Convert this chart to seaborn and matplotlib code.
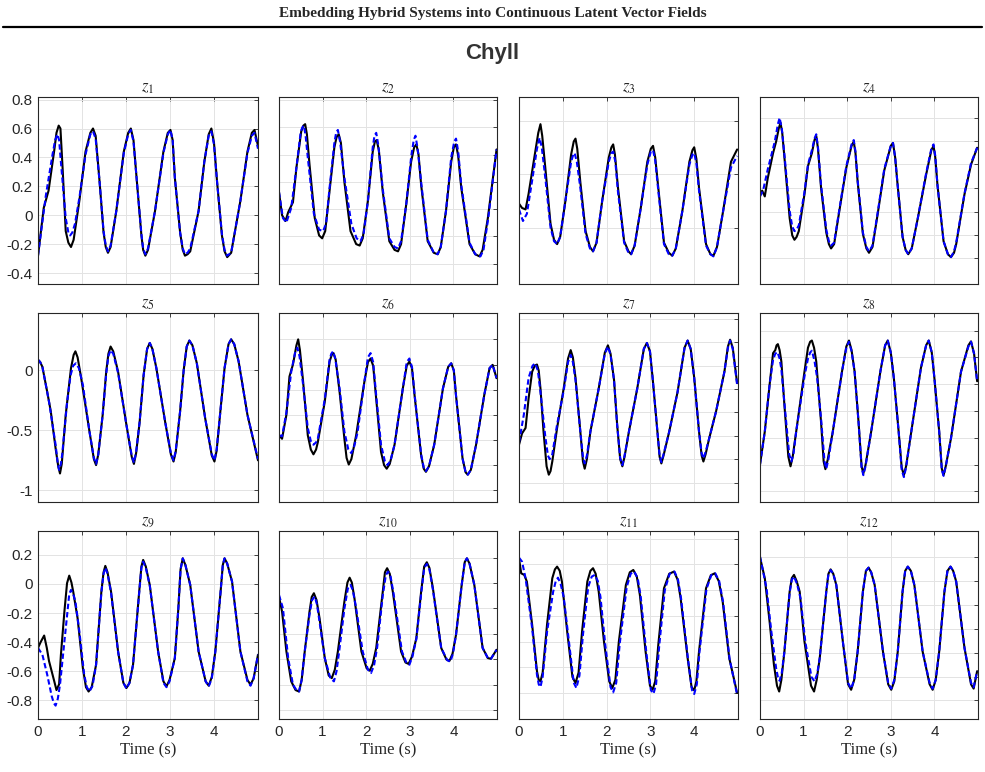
import numpy as np
import matplotlib
matplotlib.use("Agg")
import matplotlib.pyplot as plt
import seaborn as sns
from matplotlib.lines import Line2D

sns.set_style("white")
plt.rcParams['mathtext.fontset'] = 'stix'
plt.rcParams['font.family'] = ['Liberation Sans', 'DejaVu Sans']

# ---- data: (time [s], value) ----
# black = ground truth, blue dashed = prediction
z1_true = [(0, -0.28), (0.13, 0.05), (0.24, 0.17), (0.37, 0.45), (0.42, 0.57), (0.47, 0.62), (0.51, 0.60),
           (0.56, 0.32), (0.63, -0.11), (0.69, -0.19), (0.75, -0.22), (0.81, -0.17), (0.94, 0.10), (1.08, 0.44),
           (1.19, 0.57), (1.25, 0.60), (1.31, 0.55), (1.40, 0.23), (1.49, -0.12), (1.54, -0.22), (1.59, -0.26),
           (1.65, -0.22), (1.78, 0.03), (1.95, 0.44), (2.05, 0.57), (2.11, 0.60), (2.17, 0.52), (2.24, 0.26),
           (2.35, -0.14), (2.39, -0.24), (2.44, -0.28), (2.50, -0.24), (2.66, 0.03), (2.85, 0.44), (2.95, 0.57),
           (3.01, 0.59), (3.06, 0.52), (3.11, 0.26), (3.23, -0.12), (3.29, -0.24), (3.34, -0.28), (3.40, -0.27),
           (3.46, -0.25), (3.65, 0.03), (3.78, 0.37), (3.88, 0.56), (3.94, 0.60), (4.00, 0.50), (4.07, 0.23),
           (4.18, -0.14), (4.24, -0.25), (4.30, -0.29), (4.39, -0.26), (4.60, 0.10), (4.76, 0.44), (4.86, 0.57),
           (4.92, 0.59), (5.0, 0.48)]
z1_pred = [(0, -0.28), (0.18, 0.14), (0.33, 0.42), (0.39, 0.52), (0.44, 0.56), (0.48, 0.52), (0.52, 0.37),
           (0.63, -0.02), (0.69, -0.12), (0.73, -0.14), (0.78, -0.12), (0.84, -0.06), (0.94, 0.12), (1.08, 0.42),
           (1.19, 0.56), (1.25, 0.58), (1.31, 0.53), (1.40, 0.23), (1.49, -0.11), (1.54, -0.21), (1.59, -0.25),
           (1.65, -0.21), (1.78, 0.03), (1.95, 0.43), (2.05, 0.56), (2.11, 0.59), (2.17, 0.51), (2.24, 0.26),
           (2.35, -0.13), (2.39, -0.23), (2.44, -0.27), (2.50, -0.23), (2.66, 0.03), (2.85, 0.43), (2.95, 0.56),
           (3.01, 0.59), (3.06, 0.52), (3.11, 0.26), (3.23, -0.12), (3.29, -0.23), (3.34, -0.27), (3.40, -0.26),
           (3.46, -0.23), (3.65, 0.03), (3.78, 0.37), (3.88, 0.55), (3.94, 0.58), (4.00, 0.49), (4.07, 0.23),
           (4.18, -0.13), (4.24, -0.24), (4.30, -0.28), (4.39, -0.26), (4.60, 0.10), (4.76, 0.43), (4.86, 0.55),
           (4.92, 0.57), (5.0, 0.46)]
z2_true = [(0, 0.16), (0.07, 0.0), (0.15, -0.04), (0.21, 0.02), (0.32, 0.09), (0.40, 0.33), (0.51, 0.58),
           (0.56, 0.62), (0.60, 0.63), (0.64, 0.56), (0.70, 0.35), (0.82, -0.02), (0.92, -0.14), (0.99, -0.16),
           (1.06, -0.11), (1.16, 0.17), (1.27, 0.47), (1.32, 0.54), (1.37, 0.56), (1.42, 0.50), (1.50, 0.23),
           (1.64, -0.11), (1.77, -0.20), (1.85, -0.21), (1.92, -0.16), (2.04, 0.10), (2.15, 0.44), (2.20, 0.51),
           (2.24, 0.52), (2.29, 0.45), (2.38, 0.16), (2.53, -0.18), (2.65, -0.24), (2.73, -0.25), (2.80, -0.20),
           (2.92, 0.08), (3.03, 0.37), (3.10, 0.47), (3.15, 0.49), (3.20, 0.42), (3.26, 0.21), (3.41, -0.18),
           (3.55, -0.26), (3.64, -0.27), (3.71, -0.22), (3.83, 0.03), (3.95, 0.37), (4.01, 0.47), (4.06, 0.49),
           (4.11, 0.41), (4.18, 0.19), (4.37, -0.20), (4.50, -0.27), (4.60, -0.285), (4.67, -0.24), (4.79, -0.02),
           (4.99, 0.455)]
z2_pred = [(0, 0.16), (0.09, -0.02), (0.17, -0.05), (0.28, 0.05), (0.40, 0.33), (0.50, 0.58), (0.54, 0.61),
           (0.57, 0.62), (0.61, 0.55), (0.66, 0.40), (0.80, 0.01), (0.92, -0.10), (1.01, -0.11), (1.08, -0.06),
           (1.16, 0.19), (1.27, 0.50), (1.31, 0.57), (1.35, 0.59), (1.40, 0.51), (1.50, 0.26), (1.66, -0.06),
           (1.78, -0.16), (1.87, -0.18), (1.94, -0.13), (2.04, 0.10), (2.15, 0.47), (2.19, 0.55), (2.23, 0.57),
           (2.28, 0.48), (2.38, 0.18), (2.53, -0.16), (2.65, -0.22), (2.73, -0.23), (2.80, -0.18), (2.92, 0.08),
           (3.03, 0.40), (3.09, 0.52), (3.13, 0.55), (3.18, 0.46), (3.26, 0.23), (3.41, -0.17), (3.55, -0.26),
           (3.64, -0.27), (3.71, -0.22), (3.83, 0.03), (3.95, 0.40), (4.02, 0.51), (4.06, 0.53), (4.11, 0.44),
           (4.18, 0.21), (4.37, -0.19), (4.50, -0.27), (4.62, -0.285), (4.69, -0.24), (4.80, -0.02), (4.99, 0.455)]
z3_true = [(0, 0.08), (0.07, 0.05), (0.15, 0.04), (0.22, 0.15), (0.34, 0.38), (0.44, 0.57), (0.49, 0.63),
           (0.53, 0.55), (0.60, 0.33), (0.72, -0.06), (0.80, -0.17), (0.87, -0.20), (0.94, -0.15), (1.06, 0.10),
           (1.19, 0.42), (1.25, 0.51), (1.29, 0.53), (1.33, 0.46), (1.40, 0.23), (1.52, -0.11), (1.62, -0.22),
           (1.69, -0.25), (1.77, -0.19), (1.90, 0.10), (2.05, 0.40), (2.11, 0.47), (2.15, 0.49), (2.19, 0.42),
           (2.26, 0.19), (2.40, -0.18), (2.50, -0.25), (2.56, -0.27), (2.64, -0.21), (2.78, 0.05), (2.93, 0.37),
           (3.01, 0.46), (3.06, 0.48), (3.11, 0.40), (3.18, 0.19), (3.31, -0.19), (3.42, -0.26), (3.50, -0.28),
           (3.58, -0.23), (3.73, 0.03), (3.89, 0.37), (3.96, 0.45), (4.00, 0.47), (4.05, 0.39), (4.11, 0.19),
           (4.27, -0.20), (4.37, -0.27), (4.44, -0.28), (4.52, -0.22), (4.65, 0.01), (4.84, 0.37), (4.98, 0.455)]
z3_pred = [(0, 0.04), (0.09, -0.04), (0.18, 0.01), (0.30, 0.24), (0.41, 0.46), (0.47, 0.535), (0.52, 0.47),
           (0.60, 0.26), (0.72, -0.085), (0.80, -0.18), (0.87, -0.20), (0.94, -0.15), (1.06, 0.10), (1.19, 0.37),
           (1.24, 0.42), (1.27, 0.43), (1.32, 0.37), (1.40, 0.19), (1.52, -0.13), (1.62, -0.23), (1.69, -0.25),
           (1.77, -0.19), (1.90, 0.10), (2.05, 0.37), (2.11, 0.43), (2.15, 0.44), (2.20, 0.37), (2.26, 0.16),
           (2.40, -0.19), (2.50, -0.26), (2.56, -0.27), (2.64, -0.21), (2.78, 0.05), (2.93, 0.35), (3.01, 0.44),
           (3.06, 0.45), (3.11, 0.38), (3.18, 0.17), (3.31, -0.20), (3.42, -0.27), (3.50, -0.28), (3.58, -0.23),
           (3.73, 0.03), (3.89, 0.35), (3.96, 0.42), (4.00, 0.43), (4.05, 0.36), (4.11, 0.17), (4.27, -0.21),
           (4.37, -0.27), (4.44, -0.285), (4.52, -0.22), (4.65, 0.01), (4.84, 0.33), (4.98, 0.41)]
z4_true = [(0, 0.145), (0.05, 0.17), (0.11, 0.13), (0.18, 0.26), (0.30, 0.43), (0.37, 0.51), (0.43, 0.60),
           (0.47, 0.64), (0.51, 0.57), (0.56, 0.40), (0.68, -0.02), (0.74, -0.14), (0.79, -0.17), (0.84, -0.15),
           (0.89, -0.11), (1.02, 0.145), (1.10, 0.34), (1.19, 0.43), (1.25, 0.52), (1.29, 0.55), (1.33, 0.46),
           (1.40, 0.19), (1.52, -0.12), (1.58, -0.20), (1.63, -0.23), (1.70, -0.20), (1.82, 0.03), (1.98, 0.33),
           (2.10, 0.48), (2.15, 0.51), (2.19, 0.43), (2.24, 0.23), (2.36, -0.13), (2.44, -0.23), (2.50, -0.26),
           (2.58, -0.22), (2.70, 0.01), (2.85, 0.31), (3.00, 0.48), (3.05, 0.50), (3.10, 0.40), (3.15, 0.23),
           (3.27, -0.15), (3.34, -0.24), (3.40, -0.27), (3.48, -0.23), (3.62, -0.02), (3.81, 0.28), (3.93, 0.45),
           (3.98, 0.48), (4.02, 0.40), (4.07, 0.21), (4.21, -0.18), (4.31, -0.27), (4.38, -0.29), (4.45, -0.26),
           (4.50, -0.20), (4.69, 0.145), (4.84, 0.35), (4.98, 0.467)]
z4_pred = [(0, 0.13), (0.07, 0.17), (0.18, 0.32), (0.34, 0.51), (0.41, 0.63), (0.45, 0.674), (0.50, 0.60),
           (0.56, 0.42), (0.68, 0.03), (0.74, -0.08), (0.79, -0.11), (0.84, -0.10), (0.89, -0.07), (1.02, 0.16),
           (1.10, 0.35), (1.19, 0.45), (1.25, 0.53), (1.29, 0.56), (1.33, 0.47), (1.40, 0.21), (1.52, -0.10),
           (1.58, -0.18), (1.63, -0.21), (1.70, -0.19), (1.82, 0.04), (1.98, 0.34), (2.10, 0.49), (2.15, 0.52),
           (2.19, 0.44), (2.24, 0.24), (2.36, -0.12), (2.44, -0.22), (2.50, -0.25), (2.58, -0.21), (2.70, 0.02),
           (2.85, 0.32), (3.00, 0.48), (3.05, 0.50), (3.10, 0.40), (3.15, 0.23), (3.27, -0.15), (3.34, -0.24),
           (3.40, -0.27), (3.48, -0.23), (3.62, -0.02), (3.81, 0.29), (3.93, 0.46), (3.98, 0.49), (4.02, 0.41),
           (4.07, 0.21), (4.21, -0.18), (4.31, -0.27), (4.38, -0.29), (4.45, -0.25), (4.50, -0.19), (4.69, 0.15),
           (4.84, 0.36), (4.98, 0.467)]
z5_true = [(0, 0.09), (0.05, 0.07), (0.10, 0.03), (0.21, -0.18), (0.29, -0.34), (0.40, -0.65), (0.46, -0.80),
           (0.50, -0.86), (0.54, -0.78), (0.63, -0.37), (0.75, 0.02), (0.81, 0.13), (0.85, 0.16), (0.90, 0.11),
           (0.98, -0.06), (1.17, -0.51), (1.27, -0.74), (1.32, -0.79), (1.37, -0.70), (1.47, -0.37), (1.55, -0.01),
           (1.60, 0.14), (1.65, 0.20), (1.71, 0.16), (1.82, -0.01), (2.01, -0.455), (2.13, -0.72), (2.18, -0.78),
           (2.23, -0.69), (2.31, -0.43), (2.40, -0.04), (2.48, 0.18), (2.54, 0.23), (2.60, 0.18), (2.69, 0.02),
           (2.89, -0.43), (3.02, -0.70), (3.08, -0.76), (3.13, -0.68), (3.23, -0.34), (3.31, 0.0), (3.38, 0.20),
           (3.44, 0.25), (3.51, 0.21), (3.61, 0.06), (3.80, -0.40), (3.95, -0.71), (4.01, -0.76), (4.06, -0.67),
           (4.15, -0.32), (4.24, 0.02), (4.33, 0.22), (4.39, 0.26), (4.46, 0.22), (4.56, 0.075), (4.76, -0.37),
           (5.0, -0.75)]
z5_pred = [(0, 0.09), (0.05, 0.07), (0.10, 0.03), (0.25, -0.26), (0.40, -0.62), (0.45, -0.78), (0.48, -0.83),
           (0.52, -0.78), (0.55, -0.70), (0.66, -0.27), (0.74, -0.04), (0.80, 0.04), (0.86, 0.06), (0.93, 0.02),
           (1.02, -0.12), (1.17, -0.51), (1.27, -0.73), (1.32, -0.78), (1.37, -0.70), (1.47, -0.37), (1.55, -0.03),
           (1.60, 0.12), (1.65, 0.17), (1.71, 0.14), (1.82, -0.02), (2.01, -0.455), (2.13, -0.71), (2.18, -0.77),
           (2.23, -0.68), (2.31, -0.43), (2.40, -0.04), (2.48, 0.18), (2.54, 0.23), (2.60, 0.18), (2.69, 0.02),
           (2.89, -0.43), (3.02, -0.69), (3.08, -0.75), (3.13, -0.67), (3.23, -0.34), (3.31, 0.0), (3.38, 0.20),
           (3.44, 0.25), (3.51, 0.21), (3.61, 0.06), (3.80, -0.40), (3.95, -0.70), (4.01, -0.75), (4.06, -0.66),
           (4.15, -0.32), (4.24, 0.02), (4.33, 0.22), (4.39, 0.26), (4.46, 0.22), (4.56, 0.075), (4.76, -0.37),
           (5.0, -0.74)]
z6_true = [(0, -0.54), (0.07, -0.57), (0.17, -0.37), (0.24, -0.05), (0.32, 0.05), (0.40, 0.21), (0.44, 0.26),
           (0.48, 0.17), (0.55, -0.08), (0.66, -0.54), (0.73, -0.66), (0.79, -0.70), (0.85, -0.66), (0.89, -0.60),
           (1.05, -0.26), (1.16, 0.075), (1.21, 0.13), (1.25, 0.145), (1.30, 0.09), (1.39, -0.18), (1.50, -0.57),
           (1.55, -0.73), (1.60, -0.785), (1.66, -0.74), (1.77, -0.54), (1.96, -0.09), (2.04, 0.07), (2.10, 0.10),
           (2.16, 0.04), (2.23, -0.24), (2.34, -0.68), (2.41, -0.79), (2.47, -0.82), (2.54, -0.78), (2.65, -0.62),
           (2.84, -0.15), (2.93, 0.04), (2.99, 0.075), (3.05, 0.02), (3.11, -0.21), (3.26, -0.71), (3.32, -0.82),
           (3.37, -0.846), (3.44, -0.80), (3.56, -0.62), (3.76, -0.15), (3.88, 0.03), (3.95, 0.06), (4.01, 0.0),
           (4.06, -0.21), (4.21, -0.735), (4.28, -0.85), (4.33, -0.87), (4.40, -0.83), (4.52, -0.62), (4.71, -0.20),
           (4.83, 0.02), (4.90, 0.047), (4.99, -0.064)]
z6_pred = [(0, -0.54), (0.07, -0.55), (0.17, -0.35), (0.28, -0.01), (0.37, 0.15), (0.42, 0.19), (0.47, 0.12),
           (0.55, -0.11), (0.66, -0.48), (0.73, -0.59), (0.79, -0.62), (0.85, -0.60), (0.89, -0.57), (1.05, -0.24),
           (1.16, 0.09), (1.20, 0.14), (1.24, 0.16), (1.29, 0.10), (1.39, -0.15), (1.50, -0.51), (1.59, -0.66),
           (1.66, -0.69), (1.72, -0.64), (1.80, -0.52), (1.96, -0.09), (2.04, 0.11), (2.10, 0.145), (2.16, 0.07),
           (2.23, -0.21), (2.34, -0.62), (2.43, -0.76), (2.49, -0.79), (2.56, -0.75), (2.65, -0.62), (2.84, -0.15),
           (2.93, 0.07), (2.99, 0.10), (3.05, 0.03), (3.11, -0.20), (3.26, -0.70), (3.32, -0.81), (3.37, -0.84),
           (3.44, -0.80), (3.56, -0.62), (3.76, -0.15), (3.88, 0.03), (3.95, 0.06), (4.01, 0.0), (4.06, -0.21),
           (4.21, -0.735), (4.28, -0.85), (4.33, -0.87), (4.40, -0.83), (4.52, -0.62), (4.71, -0.20), (4.83, 0.02),
           (4.90, 0.047), (4.99, -0.064)]
z7_true = [(0, -0.62), (0.07, -0.525), (0.15, -0.48), (0.22, -0.23), (0.30, -0.01), (0.36, 0.04), (0.41, 0.05),
           (0.45, 0.0), (0.49, -0.15), (0.56, -0.51), (0.63, -0.80), (0.68, -0.87), (0.72, -0.84), (0.76, -0.76),
           (0.87, -0.48), (1.02, -0.15), (1.12, 0.10), (1.18, 0.17), (1.23, 0.11), (1.29, -0.06), (1.40, -0.51),
           (1.46, -0.76), (1.50, -0.82), (1.55, -0.74), (1.63, -0.51), (1.82, -0.15), (1.96, 0.15), (2.03, 0.21),
           (2.09, 0.14), (2.17, -0.08), (2.24, -0.45), (2.31, -0.74), (2.36, -0.80), (2.41, -0.72), (2.51, -0.51),
           (2.70, -0.15), (2.85, 0.18), (2.92, 0.23), (2.99, 0.16), (3.05, -0.06), (3.16, -0.51), (3.21, -0.72),
           (3.25, -0.776), (3.30, -0.71), (3.43, -0.51), (3.62, -0.18), (3.78, 0.19), (3.85, 0.25), (3.92, 0.18),
           (4.00, -0.06), (4.11, -0.51), (4.17, -0.71), (4.21, -0.76), (4.26, -0.70), (4.34, -0.57), (4.50, -0.34),
           (4.69, -0.01), (4.77, 0.20), (4.82, 0.257), (4.88, 0.19), (4.98, -0.106)]
z7_pred = [(0, -0.60), (0.11, -0.37), (0.22, -0.06), (0.31, 0.04), (0.37, 0.06), (0.43, 0.0), (0.49, -0.18),
           (0.60, -0.55), (0.66, -0.71), (0.70, -0.74), (0.74, -0.72), (0.76, -0.70), (0.87, -0.45), (1.02, -0.17),
           (1.12, 0.07), (1.18, 0.13), (1.23, 0.07), (1.29, -0.08), (1.40, -0.51), (1.46, -0.72), (1.50, -0.776),
           (1.55, -0.71), (1.63, -0.51), (1.82, -0.15), (1.96, 0.14), (2.03, 0.20), (2.09, 0.13), (2.17, -0.08),
           (2.24, -0.45), (2.31, -0.73), (2.36, -0.79), (2.41, -0.71), (2.51, -0.51), (2.70, -0.15), (2.85, 0.18),
           (2.92, 0.23), (2.99, 0.16), (3.05, -0.06), (3.16, -0.51), (3.21, -0.71), (3.25, -0.765), (3.30, -0.70),
           (3.43, -0.51), (3.62, -0.18), (3.78, 0.19), (3.85, 0.25), (3.92, 0.18), (4.00, -0.06), (4.11, -0.51),
           (4.17, -0.69), (4.21, -0.735), (4.26, -0.68), (4.34, -0.57), (4.50, -0.34), (4.69, -0.01), (4.77, 0.19),
           (4.82, 0.25), (4.88, 0.18), (4.98, -0.12)]
z8_true = [(0, -0.785), (0.11, -0.51), (0.22, -0.12), (0.30, 0.145), (0.35, 0.17), (0.38, 0.21), (0.41, 0.22),
           (0.45, 0.17), (0.49, 0.075), (0.56, -0.29), (0.65, -0.72), (0.70, -0.80), (0.75, -0.72), (0.83, -0.51),
           (1.02, -0.01), (1.10, 0.19), (1.15, 0.24), (1.19, 0.25), (1.24, 0.19), (1.29, 0.075), (1.40, -0.43),
           (1.46, -0.76), (1.50, -0.824), (1.55, -0.75), (1.67, -0.51), (1.88, -0.01), (1.98, 0.20), (2.04, 0.25),
           (2.10, 0.17), (2.17, -0.01), (2.26, -0.43), (2.33, -0.80), (2.37, -0.86), (2.42, -0.79), (2.55, -0.51),
           (2.76, -0.01), (2.87, 0.21), (2.93, 0.25), (3.00, 0.15), (3.07, -0.064), (3.18, -0.51), (3.25, -0.81),
           (3.30, -0.874), (3.35, -0.80), (3.47, -0.51), (3.69, 0.02), (3.81, 0.21), (3.87, 0.25), (3.94, 0.15),
           (4.00, -0.064), (4.11, -0.51), (4.17, -0.82), (4.21, -0.874), (4.26, -0.80), (4.38, -0.567), (4.61, -0.01),
           (4.78, 0.21), (4.84, 0.243), (4.91, 0.14), (4.98, -0.09)]
z8_pred = [(0, -0.785), (0.11, -0.51), (0.22, -0.12), (0.30, 0.09), (0.35, 0.14), (0.40, 0.154), (0.45, 0.10),
           (0.49, 0.01), (0.58, -0.35), (0.67, -0.70), (0.72, -0.76), (0.77, -0.69), (0.83, -0.51), (1.02, -0.05),
           (1.10, 0.10), (1.15, 0.15), (1.19, 0.165), (1.25, 0.08), (1.31, -0.06), (1.40, -0.40), (1.48, -0.76),
           (1.52, -0.82), (1.57, -0.74), (1.67, -0.51), (1.88, -0.01), (1.98, 0.19), (2.04, 0.24), (2.10, 0.16),
           (2.17, -0.01), (2.26, -0.43), (2.33, -0.81), (2.37, -0.874), (2.42, -0.80), (2.55, -0.51), (2.76, -0.01),
           (2.87, 0.21), (2.93, 0.25), (3.00, 0.15), (3.07, -0.064), (3.18, -0.51), (3.25, -0.83), (3.30, -0.89),
           (3.35, -0.81), (3.47, -0.51), (3.69, 0.02), (3.81, 0.21), (3.87, 0.25), (3.94, 0.15), (4.00, -0.064),
           (4.11, -0.51), (4.17, -0.83), (4.21, -0.88), (4.26, -0.80), (4.38, -0.567), (4.61, -0.01), (4.78, 0.20),
           (4.84, 0.24), (4.91, 0.14), (4.98, -0.09)]
z9_true = [(0, -0.44), (0.06, -0.40), (0.14, -0.355), (0.20, -0.44), (0.25, -0.53), (0.31, -0.60), (0.37, -0.67),
           (0.42, -0.73), (0.48, -0.69), (0.52, -0.49), (0.60, -0.19), (0.66, 0.005), (0.71, 0.057), (0.76, 0.01),
           (0.80, -0.053), (0.90, -0.236), (1.02, -0.58), (1.09, -0.71), (1.15, -0.74), (1.22, -0.71),
           (1.32, -0.556), (1.44, -0.053), (1.49, 0.08), (1.53, 0.124), (1.58, 0.08), (1.66, -0.053),
           (1.82, -0.465), (1.94, -0.68), (2.01, -0.716), (2.08, -0.68), (2.16, -0.556), (2.30, -0.053),
           (2.35, 0.12), (2.39, 0.165), (2.45, 0.12), (2.54, -0.007), (2.73, -0.465), (2.85, -0.67), (2.92, -0.705),
           (2.99, -0.66), (3.11, -0.51), (3.19, -0.167), (3.24, 0.10), (3.29, 0.176), (3.35, 0.13), (3.46, -0.007),
           (3.65, -0.465), (3.81, -0.67), (3.88, -0.70), (3.95, -0.64), (4.03, -0.465), (4.15, -0.053), (4.20, 0.13),
           (4.24, 0.176), (4.30, 0.14), (4.41, 0.016), (4.60, -0.465), (4.76, -0.66), (4.83, -0.693), (4.90, -0.65),
           (5.0, -0.487)]
z9_pred = [(0, -0.44), (0.10, -0.487), (0.21, -0.625), (0.31, -0.77), (0.36, -0.82), (0.40, -0.837),
           (0.45, -0.79), (0.50, -0.693), (0.60, -0.396), (0.67, -0.19), (0.71, -0.07), (0.75, -0.041),
           (0.80, -0.07), (0.85, -0.12), (0.94, -0.327), (1.05, -0.625), (1.11, -0.71), (1.17, -0.74),
           (1.24, -0.70), (1.32, -0.556), (1.44, -0.06), (1.49, 0.07), (1.53, 0.112), (1.58, 0.07), (1.66, -0.06),
           (1.82, -0.465), (1.94, -0.68), (2.01, -0.72), (2.08, -0.68), (2.16, -0.556), (2.30, -0.06), (2.35, 0.11),
           (2.39, 0.153), (2.45, 0.11), (2.54, -0.01), (2.73, -0.465), (2.85, -0.68), (2.92, -0.71), (2.99, -0.67),
           (3.11, -0.51), (3.19, -0.167), (3.24, 0.10), (3.29, 0.176), (3.35, 0.13), (3.46, -0.007), (3.65, -0.465),
           (3.81, -0.67), (3.88, -0.705), (3.95, -0.65), (4.03, -0.465), (4.15, -0.053), (4.20, 0.13),
           (4.24, 0.176), (4.30, 0.14), (4.41, 0.016), (4.60, -0.465), (4.76, -0.67), (4.83, -0.70), (4.90, -0.65),
           (5.0, -0.487)]
z10_true = [(0, -0.087), (0.07, -0.19), (0.17, -0.465), (0.28, -0.67), (0.38, -0.73), (0.46, -0.74), (0.52, -0.66),
            (0.59, -0.465), (0.70, -0.19), (0.75, -0.09), (0.80, -0.064), (0.86, -0.11), (0.93, -0.236),
            (1.05, -0.51), (1.14, -0.63), (1.21, -0.648), (1.28, -0.59), (1.35, -0.465), (1.50, -0.121),
            (1.57, 0.01), (1.62, 0.043), (1.67, 0.01), (1.73, -0.098), (1.89, -0.465), (2.01, -0.58),
            (2.08, -0.597), (2.15, -0.55), (2.23, -0.44), (2.38, -0.053), (2.43, 0.08), (2.48, 0.108), (2.54, 0.07),
            (2.61, -0.053), (2.80, -0.465), (2.90, -0.54), (2.97, -0.55), (3.05, -0.50), (3.15, -0.373),
            (3.26, -0.053), (3.33, 0.12), (3.39, 0.149), (3.45, 0.11), (3.53, -0.03), (3.72, -0.44), (3.84, -0.52),
            (3.91, -0.529), (3.98, -0.48), (4.06, -0.35), (4.19, -0.007), (4.26, 0.15), (4.31, 0.176), (4.37, 0.14),
            (4.48, -0.007), (4.67, -0.44), (4.79, -0.51), (4.86, -0.515), (4.99, -0.453)]
z10_pred = [(0, -0.076), (0.09, -0.167), (0.21, -0.51), (0.32, -0.693), (0.40, -0.73), (0.46, -0.74),
            (0.52, -0.66), (0.59, -0.465), (0.70, -0.21), (0.76, -0.11), (0.82, -0.087), (0.87, -0.14),
            (0.93, -0.26), (1.05, -0.51), (1.18, -0.65), (1.26, -0.67), (1.32, -0.60), (1.38, -0.465), (1.50, -0.17),
            (1.58, -0.03), (1.64, -0.007), (1.69, -0.04), (1.76, -0.15), (1.92, -0.465), (2.04, -0.59),
            (2.11, -0.613), (2.18, -0.56), (2.25, -0.44), (2.38, -0.08), (2.45, 0.06), (2.50, 0.085), (2.56, 0.05),
            (2.63, -0.07), (2.82, -0.465), (2.92, -0.54), (2.99, -0.556), (3.06, -0.50), (3.15, -0.38),
            (3.26, -0.07), (3.33, 0.11), (3.39, 0.137), (3.45, 0.10), (3.53, -0.04), (3.72, -0.44), (3.86, -0.525),
            (3.93, -0.535), (3.99, -0.48), (4.06, -0.35), (4.19, -0.007), (4.26, 0.15), (4.31, 0.176), (4.37, 0.14),
            (4.48, -0.007), (4.67, -0.44), (4.79, -0.51), (4.86, -0.515), (4.99, -0.453)]
z11_true = [(0, 0.176), (0.05, 0.073), (0.12, 0.062), (0.18, 0.016), (0.30, -0.28), (0.41, -0.60), (0.45, -0.66),
            (0.49, -0.67), (0.54, -0.61), (0.64, -0.28), (0.76, 0.039), (0.82, 0.10), (0.87, 0.119), (0.93, 0.09),
            (0.98, 0.016), (1.10, -0.327), (1.22, -0.64), (1.29, -0.682), (1.36, -0.61), (1.44, -0.327),
            (1.56, 0.016), (1.63, 0.09), (1.69, 0.108), (1.75, 0.07), (1.82, -0.053), (1.94, -0.396), (2.06, -0.67),
            (2.13, -0.716), (2.20, -0.66), (2.28, -0.396), (2.44, -0.007), (2.53, 0.08), (2.61, 0.096), (2.69, 0.05),
            (2.76, -0.076), (2.89, -0.465), (2.99, -0.70), (3.05, -0.728), (3.11, -0.67), (3.18, -0.419),
            (3.31, -0.03), (3.43, 0.07), (3.54, 0.085), (3.62, 0.03), (3.69, -0.098), (3.85, -0.51), (3.94, -0.71),
            (4.00, -0.732), (4.05, -0.67), (4.11, -0.465), (4.27, -0.03), (4.38, 0.06), (4.47, 0.073), (4.56, 0.02),
            (4.65, -0.121), (4.80, -0.51), (4.98, -0.75)]
z11_pred = [(0, 0.181), (0.07, 0.153), (0.15, 0.039), (0.30, -0.304), (0.41, -0.625), (0.45, -0.69),
            (0.49, -0.709), (0.54, -0.64), (0.64, -0.33), (0.78, -0.053), (0.84, 0.02), (0.89, 0.043), (0.95, 0.0),
            (1.02, -0.09), (1.13, -0.37), (1.25, -0.68), (1.31, -0.716), (1.38, -0.63), (1.46, -0.35), (1.58, -0.02),
            (1.66, 0.05), (1.73, 0.062), (1.80, 0.02), (1.86, -0.09), (1.97, -0.42), (2.09, -0.71), (2.15, -0.746),
            (2.22, -0.68), (2.30, -0.41), (2.46, -0.02), (2.55, 0.07), (2.63, 0.085), (2.71, 0.04), (2.78, -0.09),
            (2.91, -0.48), (3.01, -0.73), (3.07, -0.755), (3.13, -0.69), (3.20, -0.43), (3.33, -0.04), (3.44, 0.07),
            (3.55, 0.085), (3.63, 0.03), (3.70, -0.10), (3.86, -0.52), (3.95, -0.73), (4.00, -0.757), (4.06, -0.69),
            (4.12, -0.47), (4.28, -0.035), (4.39, 0.06), (4.48, 0.073), (4.57, 0.02), (4.66, -0.125), (4.81, -0.52),
            (4.98, -0.762)]
z12_true = [(0, 0.183), (0.11, 0.039), (0.22, -0.259), (0.32, -0.556), (0.39, -0.70), (0.44, -0.74), (0.49, -0.66),
            (0.56, -0.465), (0.68, -0.053), (0.73, 0.04), (0.78, 0.062), (0.84, 0.02), (0.91, -0.053),
            (1.02, -0.396), (1.17, -0.70), (1.24, -0.74), (1.30, -0.66), (1.37, -0.51), (1.52, -0.053), (1.57, 0.07),
            (1.62, 0.10), (1.68, 0.07), (1.75, -0.007), (1.90, -0.396), (2.02, -0.69), (2.09, -0.728), (2.16, -0.66),
            (2.24, -0.465), (2.36, -0.053), (2.43, 0.09), (2.49, 0.112), (2.55, 0.08), (2.63, -0.007),
            (2.82, -0.465), (2.94, -0.69), (3.01, -0.728), (3.08, -0.67), (3.16, -0.465), (3.27, -0.053),
            (3.33, 0.09), (3.39, 0.119), (3.46, 0.09), (3.54, -0.007), (3.73, -0.465), (3.89, -0.69), (3.96, -0.728),
            (4.03, -0.66), (4.11, -0.465), (4.23, -0.053), (4.30, 0.09), (4.37, 0.119), (4.43, 0.09), (4.50, 0.016),
            (4.69, -0.44), (4.84, -0.69), (4.90, -0.72), (4.98, -0.60)]
z12_pred = [(0, 0.188), (0.15, -0.03), (0.26, -0.327), (0.37, -0.58), (0.41, -0.64), (0.45, -0.666),
            (0.50, -0.61), (0.56, -0.465), (0.68, -0.06), (0.73, 0.03), (0.78, 0.05), (0.85, 0.0), (0.93, -0.10),
            (1.04, -0.40), (1.18, -0.64), (1.25, -0.67), (1.31, -0.62), (1.37, -0.51), (1.52, -0.053), (1.57, 0.07),
            (1.62, 0.095), (1.68, 0.07), (1.75, -0.007), (1.90, -0.396), (2.02, -0.68), (2.09, -0.72), (2.16, -0.66),
            (2.24, -0.465), (2.36, -0.053), (2.43, 0.09), (2.49, 0.112), (2.55, 0.08), (2.63, -0.007),
            (2.82, -0.465), (2.94, -0.68), (3.01, -0.72), (3.08, -0.66), (3.16, -0.465), (3.27, -0.053),
            (3.33, 0.09), (3.39, 0.119), (3.46, 0.09), (3.54, -0.007), (3.73, -0.465), (3.89, -0.68), (3.96, -0.72),
            (4.03, -0.66), (4.11, -0.465), (4.23, -0.053), (4.30, 0.09), (4.37, 0.119), (4.43, 0.09), (4.50, 0.016),
            (4.69, -0.44), (4.84, -0.68), (4.90, -0.71), (4.98, -0.60)]

true_series = [z1_true, z2_true, z3_true, z4_true, z5_true, z6_true,
               z7_true, z8_true, z9_true, z10_true, z11_true, z12_true]
pred_series = [z1_pred, z2_pred, z3_pred, z4_pred, z5_pred, z6_pred,
               z7_pred, z8_pred, z9_pred, z10_pred, z11_pred, z12_pred]

# axis ranges per row and tick labels of the left column
row_ylims = [(-0.476, 0.818), (-1.098, 0.48), (-0.929, 0.364)]
left_yticks = [[-0.4, -0.2, 0, 0.2, 0.4, 0.6, 0.8], [-1, -0.5, 0], [-0.8, -0.6, -0.4, -0.2, 0, 0.2]]
left_ylabels = [["-0.4", "-0.2", "0", "0.2", "0.4", "0.6", "0.8"], ["-1", "-0.5", "0"],
                ["-0.8", "-0.6", "-0.4", "-0.2", "0", "0.2"]]
# unlabeled grid positions for the other columns
inner_yticks = [
    [[-0.338, -0.147, 0.041, 0.23, 0.42, 0.609, 0.8], [-0.09, 0.283, 0.651],
     [-0.299, -0.138, 0.025, 0.186, 0.352, 0.513, 0.674]],
    [[-1.0, -0.791, -0.581, -0.372, -0.162, 0.047, 0.263],
     [-0.939, -0.74, -0.545, -0.349, -0.156, 0.039, 0.235, 0.433],
     [-1.003, -0.785, -0.561, -0.338, -0.115, 0.109, 0.332]],
    [[-0.867, -0.693, -0.517, -0.343, -0.167, 0.005, 0.181],
     [-0.75, -0.572, -0.396, -0.22, -0.043, 0.135, 0.309],
     [-0.80, -0.638, -0.474, -0.309, -0.144, 0.021, 0.183]],
]
xticks = [0, 1, 2, 3, 4]

# ---- figure ----
fig = plt.figure(figsize=(9.85, 7.72), dpi=100)
fig.patch.set_facecolor('white')

col_left = [38, 279, 519, 760]
col_width = [220, 218, 219, 218]
row_top = [97, 313, 531]
row_height = [187, 189, 188]
W, H = 985.0, 772.0

for i in range(12):
    r, c = divmod(i, 4)
    ax = fig.add_axes([col_left[c] / W, 1 - (row_top[r] + row_height[r]) / H,
                       col_width[c] / W, row_height[r] / H])
    t_true, v_true = np.array(true_series[i]).T
    t_pred, v_pred = np.array(pred_series[i]).T
    sns.lineplot(x=t_true, y=v_true, ax=ax, color='black', linewidth=1.5,
                 sort=False, estimator=None, solid_joinstyle='round')
    sns.lineplot(x=t_pred, y=v_pred, ax=ax, color='#0000ff', linewidth=1.5,
                 linestyle=(0, (2.6, 1.4)), sort=False, estimator=None, dash_joinstyle='round')
    ax.set_xlim(0, 5)
    ax.set_ylim(*row_ylims[r])
    ax.set_xticks(xticks)
    if c == 0:
        ax.set_yticks(left_yticks[r])
        ax.set_yticklabels(left_ylabels[r])
    else:
        ax.set_yticks(inner_yticks[r][c - 1])
        ax.set_yticklabels([])
    if r == 2:
        ax.set_xticklabels([str(x) for x in xticks])
        ax.set_xlabel('Time (s)', family='Liberation Serif', fontsize=12, color='#262626', labelpad=3)
    else:
        ax.set_xticklabels([])
    ax.set_ylabel('')
    ax.grid(True, color='#e3e3e3', linewidth=0.7)
    ax.tick_params(direction='in', length=3, width=0.6, top=True, right=True,
                   labelsize=11, labelcolor='#262626', colors='#262626', pad=4)
    for s in ax.spines.values():
        s.set_color('#262626')
        s.set_linewidth(0.8)
    ax.set_title(f'$z_{{{i + 1}}}$', fontsize=12, pad=4)

fig.text(0.5, 1 - 14 / H, 'Embedding Hybrid Systems into Continuous Latent Vector Fields',
         ha='center', va='center', family='Liberation Serif', fontweight='bold', fontsize=11)
fig.add_artist(Line2D([3 / W, 982 / W], [1 - 27 / H, 1 - 27 / H], color='black', linewidth=1.6))
fig.text(0.5, 1 - 54 / H, 'Chyll', ha='center', va='center', fontweight='bold',
         fontsize=16, color='#333333')

fig.savefig('out.png', dpi=100, facecolor='white')
